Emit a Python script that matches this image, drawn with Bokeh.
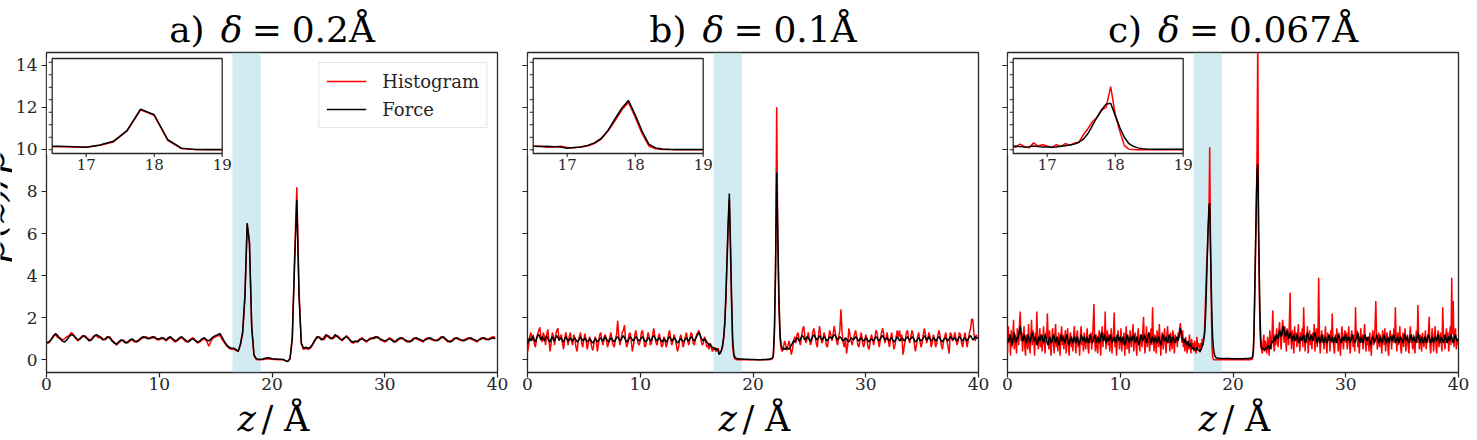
import numpy as np
from math import pi
from bokeh.plotting import figure
from bokeh.layouts import row, column
from bokeh.models import (Range1d, Label, Legend, LegendItem, FixedTicker,
                          BoxAnnotation, ColumnDataSource)
from bokeh.embed import file_html
from bokeh.resources import INLINE

# ---------------- data ----------------
panel_prefix = ["a)", "b)", "c)"]
panel_delta = ["0.2Å", "0.1Å", "0.067Å"]
series_names = ["Histogram", "Force"]
x_ticks = [0, 10, 20, 30, 40]
y_ticks = [0, 2, 4, 6, 8, 10, 12, 14]
inset_x_ticks = [17, 18, 19]
band_lo, band_hi = 16.5, 19.0
inset_lo, inset_hi = 16.5, 19.0
step_a, step_b, step_c = 0.2, 0.1, 1.0 / 15.0

hist_a = [
    0.85, 0.80, 0.95, 1.15, 1.20, 1.05, 1.05, 0.95, 1.00, 1.10,
    1.15, 1.30, 1.20, 1.00, 0.90, 1.05, 1.10, 1.15, 1.05, 0.95,
    1.00, 1.15, 1.15, 1.05, 1.10, 1.00, 0.95, 1.05, 1.10, 0.95,
    0.85, 0.70, 0.80, 0.90, 0.95, 0.85, 0.80, 0.90, 0.95, 0.85,
    0.90, 0.90, 1.00, 1.05, 1.10, 1.05, 1.00, 1.05, 1.10, 0.95,
    0.95, 1.00, 1.05, 0.90, 1.00, 1.05, 0.95, 0.85, 0.90, 1.00,
    1.05, 0.95, 0.85, 0.90, 1.00, 1.05, 0.95, 0.80, 0.85, 0.95,
    1.00, 0.90, 0.65, 0.90, 1.05, 1.10, 1.15, 1.15, 0.95, 0.80,
    0.65, 0.55, 0.50, 0.50, 0.45, 0.40, 0.70, 1.25, 3.00, 6.40,
    5.50, 1.50, 0.20, 0.02, 0.01, 0.01, 0.02, 0.04, 0.05, 0.04,
    0.03, 0.02, 0.02, 0.01, 0.01, 0.00, -0.04, -0.06, 0.05, 1.10,
    4.80, 8.20, 3.20, 0.75, 0.50, 0.55, 0.50, 0.55, 0.70, 0.90,
    1.05, 1.10, 1.00, 0.95, 1.10, 1.15, 1.05, 1.00, 1.10, 1.15,
    1.05, 0.90, 1.00, 1.15, 1.05, 0.85, 0.80, 0.85, 0.90, 1.00,
    1.05, 0.90, 0.85, 1.00, 1.05, 1.00, 1.05, 1.10, 0.95, 0.90,
    0.85, 0.90, 1.05, 1.00, 0.90, 0.85, 0.95, 1.00, 1.05, 0.90,
    0.85, 0.90, 0.95, 1.05, 1.00, 0.95, 0.90, 0.85, 1.00, 1.05,
    1.00, 0.95, 0.90, 0.95, 1.00, 1.10, 1.05, 0.95, 0.85, 0.90,
    0.95, 1.05, 1.00, 0.95, 0.90, 0.95, 1.00, 1.05, 1.00, 0.95,
    0.90, 0.85, 1.00, 1.05, 1.00, 0.95, 1.00, 1.05, 1.10, 1.05,
]
force_a = [
    0.80, 0.85, 0.95, 1.10, 1.25, 1.15, 1.00, 0.90, 0.85, 0.95,
    1.10, 1.20, 1.15, 1.05, 0.95, 1.00, 1.15, 1.10, 1.00, 0.90,
    0.95, 1.10, 1.20, 1.15, 1.05, 0.95, 1.00, 1.10, 1.05, 0.90,
    0.80, 0.75, 0.85, 0.95, 0.90, 0.80, 0.85, 0.95, 1.00, 0.90,
    0.85, 0.95, 1.05, 1.10, 1.05, 1.00, 1.05, 1.10, 1.05, 1.00,
    1.00, 1.05, 1.00, 0.95, 1.05, 1.10, 1.00, 0.90, 0.95, 1.05,
    1.10, 1.00, 0.90, 0.85, 0.95, 1.00, 0.90, 0.85, 0.90, 1.00,
    1.05, 0.95, 0.90, 1.00, 1.10, 1.15, 1.20, 1.25, 1.05, 0.85,
    0.70, 0.60, 0.55, 0.55, 0.50, 0.40, 0.75, 1.35, 3.05, 6.50,
    5.60, 1.60, 0.25, 0.06, 0.03, 0.03, 0.04, 0.08, 0.10, 0.09,
    0.05, 0.04, 0.04, 0.03, 0.03, 0.02, -0.05, -0.08, 0.05, 1.00,
    4.50, 7.60, 3.00, 0.80, 0.55, 0.60, 0.55, 0.60, 0.75, 0.95,
    1.10, 1.05, 0.95, 1.05, 1.20, 1.10, 1.00, 1.05, 1.20, 1.10,
    1.00, 0.95, 1.05, 1.10, 1.00, 0.90, 0.85, 0.90, 0.85, 0.95,
    1.00, 0.95, 0.90, 0.95, 1.00, 1.05, 1.10, 1.05, 1.00, 0.95,
    0.90, 0.95, 1.00, 0.95, 0.85, 0.90, 1.00, 1.05, 1.00, 0.95,
    0.90, 0.85, 0.90, 1.00, 1.05, 1.00, 0.95, 0.90, 0.95, 1.00,
    1.05, 1.00, 0.95, 0.90, 0.95, 1.05, 1.10, 1.00, 0.90, 0.85,
    0.90, 1.00, 1.05, 1.00, 0.95, 0.90, 0.95, 1.00, 1.05, 1.00,
    0.95, 0.90, 0.95, 1.00, 1.05, 1.00, 0.95, 1.00, 1.05, 1.00,
]

hist_b = [
    0.35, 0.70, 1.10, 1.30, 0.90, 1.20, 0.80, 0.60, 1.00, 1.25,
    1.40, 1.55, 1.00, 0.85, 1.30, 1.10, 0.70, 1.20, 1.45, 0.95,
    0.40, 0.80, 1.30, 1.10, 0.70, 1.20, 1.40, 1.50, 0.90, 1.10,
    1.20, 0.80, 0.50, 1.00, 1.30, 1.00, 0.70, 1.10, 1.30, 0.90,
    0.70, 1.20, 1.00, 0.60, 0.40, 0.90, 1.10, 1.30, 0.80, 0.60,
    1.00, 1.25, 0.90, 0.50, 0.80, 1.10, 0.90, 0.60, 0.45, 0.80,
    1.10, 0.90, 0.40, 0.80, 1.20, 1.30, 0.90, 0.70, 1.10, 1.20,
    0.90, 0.60, 0.80, 1.10, 1.30, 0.90, 0.70, 0.60, 1.00, 1.20,
    1.85, 1.10, 0.70, 1.00, 1.30, 1.40, 1.65, 0.90, 0.60, 0.80,
    1.20, 1.30, 0.90, 0.40, 0.70, 1.10, 1.40, 1.10, 0.80, 0.70,
    0.90, 1.30, 1.40, 1.00, 0.60, 0.70, 1.00, 1.30, 1.10, 0.70,
    0.80, 1.20, 1.50, 1.10, 0.80, 0.70, 1.10, 1.25, 0.90, 0.60,
    0.70, 1.10, 0.90, 0.60, 0.80, 1.20, 1.40, 1.00, 0.70, 0.90,
    1.20, 1.00, 0.70, 0.40, 0.60, 1.00, 1.20, 0.90, 0.60, 0.80,
    1.10, 1.30, 0.90, 0.70, 1.00, 1.30, 1.20, 0.80, 0.70, 1.00,
    1.20, 1.30, 1.40, 1.20, 0.90, 0.70, 0.80, 1.10, 0.90, 0.60,
    0.70, 0.50, 0.80, 0.60, 0.40, 0.55, 0.60, 0.40, 0.45, 0.55,
    0.35, 0.30, 0.45, 0.60, 1.00, 1.70, 3.00, 4.60, 6.30, 7.60,
    5.20, 2.60, 0.60, 0.15, 0.05, 0.02, 0.01, 0.01, 0.01, 0.00,
    0.00, 0.01, 0.00, 0.00, 0.01, 0.00, 0.00, 0.00, 0.01, 0.00,
    0.00, 0.00, 0.01, 0.00, 0.00, 0.00, 0.01, 0.00, 0.00, 0.00,
    0.00, 0.01, 0.00, 0.00, 0.01, 0.02, 0.03, 0.05, 0.15, 1.20,
    4.00, 12.00, 5.50, 2.50, 1.00, 0.50, 0.40, 0.60, 0.90, 0.70,
    0.45, 0.70, 0.90, 0.60, 0.25, 0.50, 0.90, 1.10, 0.80, 1.20,
    1.30, 0.90, 0.70, 1.10, 1.45, 1.60, 1.10, 0.80, 1.00, 1.30,
    1.00, 0.70, 0.90, 1.30, 1.50, 1.20, 0.80, 0.60, 1.10, 1.60,
    1.20, 0.80, 0.90, 1.30, 1.10, 0.70, 0.60, 1.00, 1.40, 1.20,
    0.90, 1.20, 1.60, 1.30, 0.90, 0.70, 1.10, 1.40, 2.40, 1.30,
    0.80, 0.60, 1.00, 0.30, 0.70, 1.50, 1.20, 0.90, 0.70, 1.00,
    1.20, 1.40, 1.10, 0.70, 0.60, 1.00, 1.30, 0.90, 0.60, 0.80,
    1.20, 1.00, 0.60, 0.50, 0.90, 1.20, 1.00, 0.70, 1.00, 1.40,
    1.30, 0.90, 0.60, 1.00, 1.30, 1.50, 1.20, 0.80, 1.00, 1.30,
    0.90, 0.60, 1.00, 1.30, 0.90, 0.50, 0.70, 1.10, 1.40, 1.10,
    1.40, 0.90, 1.20, 0.25, 0.60, 0.90, 1.30, 1.40, 1.00, 0.80,
    1.10, 1.40, 1.20, 0.80, 0.40, 0.70, 1.10, 1.30, 0.90, 0.60,
    0.80, 1.20, 1.50, 1.20, 0.80, 1.00, 1.30, 1.10, 0.60, 0.80,
    1.20, 1.00, 0.60, 0.80, 1.20, 1.40, 1.10, 0.70, 0.50, 0.90,
    1.10, 1.30, 0.90, 0.60, 0.30, 1.30, 1.20, 0.90, 1.00, 1.30,
    1.00, 0.70, 0.90, 1.30, 1.20, 0.80, 0.60, 1.00, 1.30, 0.90,
    0.60, 1.00, 1.30, 1.50, 1.95, 1.90, 1.20, 0.90, 1.20, 1.00,
]
force_b = [
    0.75, 0.95, 1.05, 0.90, 1.00, 1.10, 0.95, 0.85, 1.00, 1.15,
    1.20, 1.05, 0.95, 1.10, 1.00, 0.90, 1.05, 1.15, 1.00, 0.90,
    0.85, 1.00, 1.10, 0.95, 0.90, 1.05, 1.15, 1.05, 0.95, 1.00,
    1.05, 0.90, 0.85, 1.00, 1.10, 1.00, 0.90, 0.95, 1.05, 0.95,
    0.90, 1.00, 1.05, 0.95, 0.85, 0.90, 1.00, 1.10, 1.00, 0.90,
    0.95, 1.05, 0.95, 0.85, 0.90, 1.00, 0.95, 0.85, 0.80, 0.90,
    1.00, 0.95, 0.85, 0.90, 1.00, 1.05, 0.95, 0.90, 1.00, 1.10,
    1.00, 0.90, 0.85, 0.95, 1.05, 1.00, 0.90, 0.85, 0.95, 1.05,
    1.10, 1.00, 0.90, 0.95, 1.05, 1.15, 1.05, 0.95, 0.85, 0.90,
    1.00, 1.10, 1.05, 0.95, 0.90, 1.00, 1.10, 1.05, 0.95, 0.90,
    0.95, 1.05, 1.10, 1.00, 0.90, 0.85, 0.95, 1.05, 1.00, 0.90,
    0.95, 1.10, 1.15, 1.05, 0.95, 0.90, 1.00, 1.05, 0.95, 0.85,
    0.90, 1.00, 0.95, 0.85, 0.90, 1.05, 1.10, 1.00, 0.90, 0.95,
    1.05, 1.00, 0.90, 0.80, 0.85, 0.95, 1.00, 0.95, 0.85, 0.90,
    1.00, 1.05, 0.95, 0.90, 1.00, 1.10, 1.05, 0.95, 0.90, 1.00,
    1.10, 1.20, 1.30, 1.20, 1.05, 0.95, 0.90, 1.00, 0.95, 0.85,
    0.80, 0.70, 0.75, 0.65, 0.60, 0.55, 0.50, 0.55, 0.50, 0.45,
    0.25, 0.35, 0.45, 0.70, 1.10, 1.80, 3.10, 4.90, 6.60, 7.90,
    5.60, 3.00, 0.90, 0.30, 0.12, 0.08, 0.05, 0.05, 0.04, 0.04,
    0.04, 0.04, 0.03, 0.03, 0.03, 0.03, 0.03, 0.02, 0.02, 0.02,
    0.02, 0.02, 0.02, 0.01, 0.01, 0.01, 0.01, 0.01, 0.01, 0.02,
    0.02, 0.02, 0.02, 0.03, 0.03, 0.04, 0.05, 0.08, 0.20, 1.50,
    4.50, 8.90, 6.00, 3.00, 1.20, 0.70, 0.55, 0.50, 0.55, 0.50,
    0.60, 0.55, 0.50, 0.60, 0.70, 0.80, 0.90, 0.85, 0.95, 1.05,
    1.00, 0.90, 0.95, 1.10, 1.15, 1.05, 0.95, 1.00, 1.10, 1.05,
    0.95, 0.90, 1.00, 1.10, 1.20, 1.10, 1.00, 0.95, 1.05, 1.15,
    1.05, 0.95, 1.00, 1.10, 1.05, 0.95, 0.90, 1.00, 1.10, 1.05,
    1.00, 1.10, 1.20, 1.15, 1.05, 0.95, 1.00, 1.10, 1.05, 0.95,
    0.90, 0.95, 1.05, 1.00, 0.90, 0.85, 0.95, 1.05, 1.00, 0.95,
    1.00, 1.10, 1.05, 0.95, 0.90, 1.00, 1.05, 0.95, 0.90, 0.95,
    1.05, 1.00, 0.90, 0.85, 0.95, 1.00, 0.95, 0.90, 1.00, 1.10,
    1.05, 0.95, 0.90, 1.00, 1.10, 1.15, 1.05, 0.95, 1.00, 1.05,
    0.95, 0.90, 1.00, 1.05, 0.95, 0.85, 0.90, 1.00, 1.10, 1.00,
    0.90, 0.95, 1.05, 1.00, 0.90, 0.95, 1.05, 1.10, 1.00, 0.95,
    1.00, 1.10, 1.05, 0.95, 0.85, 0.90, 1.00, 1.05, 0.95, 0.90,
    0.95, 1.05, 1.15, 1.05, 0.95, 1.00, 1.10, 1.00, 0.90, 0.95,
    1.05, 1.00, 0.90, 0.95, 1.05, 1.10, 1.00, 0.90, 0.85, 0.95,
    1.00, 1.05, 0.95, 0.90, 1.00, 1.10, 1.05, 0.95, 1.00, 1.05,
    0.95, 0.90, 1.00, 1.10, 1.05, 0.95, 0.90, 1.00, 1.05, 0.95,
    0.90, 1.00, 1.10, 1.15, 1.05, 0.95, 1.00, 1.10, 1.05, 1.00,
]

hist_c = [
    0.3, 1.6, 0.8, 1.2, 0.2, 1.4, 0.6, 1.0, 1.9, 0.5, 1.2, 0.9, 0.3, 1.5, 1.1,
    0.7, 1.8, 2.3, 0.9, 1.3, 0.4, 1.1, 1.6, 0.6, 0.2, 1.2, 1.0, 0.5, 1.7, 0.8,
    0.3, 1.1, 1.9, 0.7, 1.4, 1.0, 0.2, 1.3, 0.8, 2.3, 1.1, 0.5, 0.9, 1.5, 0.6,
    1.2, 0.4, 1.0, 1.6, 0.8, 0.3, 1.3, 0.9, 2.2, 1.1, 0.5, 1.4, 0.7, 0.2, 1.0,
    1.5, 0.8, 0.3, 1.2, 1.7, 0.6, 1.0, 0.4, 1.3, 0.9, 0.2, 1.1, 1.6, 0.7, 1.2,
    0.5, 1.0, 1.4, 0.3, 0.9, 1.5, 0.7, 0.2, 1.1, 1.3, 0.6, 1.0, 0.4, 1.2, 1.6,
    0.8, 0.3, 1.1, 1.4, 0.6, 0.9, 0.2, 1.2, 1.6, 0.7, 1.0, 0.4, 1.3, 0.9, 0.5,
    1.1, 1.5, 0.6, 0.3, 1.2, 0.8, 1.3, 0.5, 1.0, 1.7, 2.65, 0.9, 0.4, 1.2, 0.7,
    0.3, 1.0, 1.4, 0.8, 0.2, 1.1, 1.6, 0.6, 1.3, 0.9, 2.3, 0.5, 1.0, 1.4, 0.7,
    1.2, 0.4, 0.9, 1.5, 0.3, 1.0, 1.3, 2.25, 0.6, 1.1, 0.2, 0.8, 1.4, 1.0, 0.5,
    0.9, 1.5, 0.4, 1.1, 0.7, 1.3, 0.2, 1.0, 1.6, 0.5, 1.2, 0.8, 0.3, 1.4, 1.0,
    0.6, 1.2, 1.7, 0.4, 1.0, 1.3, 0.7, 0.2, 1.1, 1.5, 0.8, 0.4, 1.2, 1.0, 0.6,
    1.4, 2.05, 0.8, 0.3, 1.1, 1.6, 0.6, 1.0, 1.3, 0.4, 0.9, 1.5, 0.7, 2.5, 1.0,
    0.4, 1.2, 0.8, 0.3, 1.4, 1.0, 0.6, 1.7, 0.9, 0.2, 1.1, 1.3, 0.5, 1.0, 1.5,
    0.7, 0.3, 1.2, 1.6, 0.8, 1.1, 0.4, 1.3, 0.9, 0.5, 1.4, 1.0, 0.3, 1.2, 0.8,
    1.1, 0.6, 1.3, 1.0, 1.5, 1.75, 1.2, 0.8, 1.4, 0.6, 1.0, 0.4, 1.1, 0.7, 0.3,
    0.9, 0.5, 1.2, 0.7, 0.3, 1.0, 0.6, 0.8, 0.4, 0.9, 0.5, 0.3, 1.1, 0.6, 0.8,
    0.60, 0.35, 0.80, 0.50, 1.00, 0.70, 1.10, 1.20, 2.40, 3.40, 4.50, 5.20, 6.30, 6.80, 10.10,
    5.70, 3.00, 0.70, 0.10, 0.03, 0.00, 0.01, 0.00, 0.00, 0.01, 0.00, 0.00, 0.00, 0.00, 0.00,
    0.00, 0.00, 0.00, 0.00, 0.00, 0.00, 0.00, 0.00, 0.00, 0.00, 0.00, 0.00, 0.00, 0.00, 0.00,
    0.00, 0.00, 0.00, 0.00, 0.00, 0.00, 0.00, 0.00, 0.00, 0.00, 0.00, 0.00, 0.00, 0.00, 0.00,
    0.00, 0.00, 0.00, 0.01, 0.00, 0.00, 0.01, 0.00, 0.01, 0.02, 0.03, 0.05, 0.30, 1.20, 3.00,
    5.00, 7.00, 10.00, 15.50, 6.00, 3.00, 1.20, 0.60, 0.50, 0.30, 0.80, 1.20, 0.40, 0.90, 0.60,
    0.30, 1.10, 0.70, 0.20, 1.40, 0.90, 0.50, 1.30, 2.35, 0.80, 0.40, 1.20, 0.70, 1.50, 1.00,
    0.60, 1.40, 1.80, 1.00, 0.50, 1.20, 1.90, 1.40, 0.80, 1.60, 1.10, 0.40, 1.50, 1.30, 0.70,
    1.8, 3.2, 1.0, 0.5, 1.4, 1.1, 0.3, 1.6, 0.9, 1.3, 0.6, 1.2, 1.7, 0.8, 0.4,
    1.3, 0.9, 1.5, 0.6, 2.5, 1.1, 0.4, 1.2, 0.8, 1.6, 0.3, 1.0, 1.4, 0.7, 1.1,
    0.5, 1.3, 0.9, 1.7, 0.4, 1.1, 1.5, 0.6, 1.0, 3.9, 1.2, 0.3, 0.9, 1.4, 0.8,
    1.2, 0.5, 1.0, 1.6, 0.7, 0.3, 1.3, 0.9, 1.1, 0.4, 1.4, 0.8, 2.2, 1.0, 0.6,
    0.3, 1.2, 0.8, 1.5, 1.0, 0.4, 1.3, 0.7, 0.2, 1.1, 1.6, 0.9, 0.5, 1.2, 1.4,
    0.8, 1.3, 0.5, 1.0, 1.6, 0.7, 0.3, 1.1, 1.4, 0.9, 0.6, 1.2, 0.4, 2.5, 1.0,
    1.4, 0.6, 1.1, 0.3, 1.0, 1.5, 0.8, 1.2, 0.5, 0.9, 1.7, 1.0, 0.4, 1.1, 0.7,
    1.0, 0.4, 1.3, 0.8, 0.2, 1.1, 1.4, 0.7, 1.0, 1.6, 2.8, 1.2, 0.5, 0.9, 1.3,
    0.6, 1.2, 0.9, 0.3, 1.4, 1.0, 0.7, 1.5, 0.4, 1.1, 1.3, 0.6, 0.2, 1.0, 1.4,
    1.1, 0.5, 1.2, 0.8, 1.5, 0.9, 2.5, 1.0, 0.4, 1.3, 0.7, 1.1, 1.6, 0.6, 0.3,
    0.9, 1.3, 0.6, 1.1, 1.5, 0.4, 1.0, 1.2, 0.7, 0.3, 1.1, 1.6, 0.8, 1.0, 0.5,
    1.2, 0.7, 0.3, 1.0, 1.4, 0.8, 2.6, 1.1, 0.5, 1.2, 0.9, 0.4, 1.3, 1.0, 0.6,
    1.0, 1.4, 0.5, 1.1, 0.8, 1.3, 2.05, 0.7, 0.3, 1.0, 1.5, 0.9, 0.4, 1.2, 1.6,
    0.7, 0.3, 1.1, 1.4, 0.6, 1.0, 1.3, 0.8, 0.4, 2.5, 1.2, 0.9, 0.5, 1.1, 1.5,
    0.8, 1.3, 0.4, 1.0, 1.6, 0.7, 3.9, 1.2, 2.8, 0.6, 1.1, 1.5, 0.5, 1.0, 0.7,
]
force_c = [
    0.8, 1.0, 0.9, 1.2, 1.1, 0.9, 0.7, 0.9, 1.1, 1.3, 1.0, 0.8, 0.9, 1.1, 1.0,
    1.2, 1.4, 1.6, 1.3, 1.1, 0.9, 1.0, 1.2, 1.1, 0.9, 0.8, 1.0, 1.2, 1.1, 0.9,
    0.8, 1.0, 1.2, 1.3, 1.1, 0.9, 1.0, 1.1, 0.9, 0.7, 0.8, 1.0, 1.1, 0.9, 1.0,
    1.2, 1.1, 0.9, 0.8, 1.0, 1.2, 1.1, 0.9, 0.8, 0.7, 0.9, 1.1, 1.0, 0.8, 0.9,
    1.0, 1.2, 1.1, 0.9, 0.8, 1.0, 1.1, 0.9, 0.7, 0.8, 1.0, 1.2, 1.0, 0.9, 1.1,
    1.0, 0.8, 0.9, 1.1, 1.2, 1.0, 0.8, 0.7, 0.9, 1.0, 1.1, 0.9, 0.8, 1.0, 1.1,
    0.9, 0.8, 1.0, 1.1, 0.9, 0.7, 0.8, 1.0, 1.2, 1.1, 0.9, 1.0, 1.1, 0.9, 0.8,
    1.0, 1.1, 0.9, 0.8, 1.0, 1.2, 1.0, 0.9, 0.8, 0.9, 1.1, 1.2, 1.0, 0.8, 0.9,
    1.1, 1.0, 0.8, 0.9, 1.1, 1.3, 1.1, 0.9, 1.0, 1.2, 1.0, 0.8, 0.9, 1.1, 1.0,
    0.9, 1.1, 1.2, 1.0, 0.8, 0.9, 1.0, 1.1, 0.9, 0.8, 1.0, 1.2, 1.1, 0.9, 1.0,
    1.1, 0.9, 0.8, 1.0, 1.1, 0.9, 0.7, 0.8, 1.0, 1.2, 1.1, 0.9, 0.8, 1.0, 1.1,
    1.0, 0.9, 1.1, 1.2, 1.0, 0.8, 0.9, 1.1, 1.0, 0.8, 0.7, 0.9, 1.1, 1.2, 1.0,
    0.9, 1.0, 1.2, 1.1, 0.9, 0.8, 1.0, 1.1, 1.3, 1.1, 0.9, 0.8, 1.0, 1.1, 0.9,
    0.8, 1.0, 1.1, 0.9, 0.8, 0.9, 1.1, 1.0, 0.8, 0.7, 0.9, 1.0, 1.2, 1.0, 0.9,
    1.0, 1.1, 0.9, 0.8, 1.0, 1.2, 1.1, 0.9, 0.8, 1.0, 1.1, 1.0, 0.9, 0.8, 1.0,
    1.1, 1.0, 0.9, 1.1, 1.3, 1.5, 1.3, 1.1, 1.0, 0.9, 0.8, 1.0, 0.9, 0.7, 0.8,
    0.9, 0.7, 0.6, 0.8, 0.7, 0.6, 0.5, 0.6, 0.55, 0.5, 0.45, 0.5, 0.6, 0.5, 0.45,
    0.45, 0.40, 0.45, 0.55, 0.65, 0.75, 0.90, 1.20, 1.70, 2.60, 3.90, 5.20, 6.40, 7.30, 7.45,
    5.50, 3.60, 2.00, 1.00, 0.55, 0.30, 0.18, 0.12, 0.10, 0.09, 0.08, 0.08, 0.07, 0.07, 0.07,
    0.07, 0.07, 0.06, 0.06, 0.06, 0.06, 0.06, 0.06, 0.06, 0.06, 0.06, 0.06, 0.06, 0.05, 0.05,
    0.05, 0.05, 0.05, 0.05, 0.05, 0.05, 0.05, 0.05, 0.05, 0.05, 0.05, 0.05, 0.05, 0.05, 0.05,
    0.06, 0.06, 0.06, 0.06, 0.06, 0.07, 0.07, 0.07, 0.08, 0.09, 0.10, 0.15, 0.40, 1.50, 3.50,
    5.50, 7.50, 9.00, 9.30, 6.50, 4.00, 2.00, 1.00, 0.60, 0.50, 0.55, 0.50, 0.45, 0.55, 0.60,
    0.50, 0.60, 0.70, 0.60, 0.50, 0.60, 0.80, 0.90, 0.80, 1.00, 1.10, 0.90, 1.00, 1.20, 1.10,
    1.0, 1.2, 1.4, 1.3, 1.1, 1.2, 1.5, 1.6, 1.4, 1.2, 1.1, 1.3, 1.4, 1.2, 1.0,
    1.1, 1.3, 1.2, 1.0, 0.9, 1.1, 1.2, 1.0, 0.9, 1.0, 1.2, 1.1, 0.9, 0.8, 1.0,
    1.1, 1.0, 0.9, 1.1, 1.2, 1.0, 0.8, 0.9, 1.1, 1.3, 1.1, 1.0, 0.9, 1.0, 1.2,
    1.1, 0.9, 1.0, 1.2, 1.3, 1.1, 0.9, 0.8, 1.0, 1.1, 0.9, 0.8, 1.0, 1.2, 1.0,
    0.9, 0.8, 1.0, 1.1, 0.9, 0.8, 0.9, 1.1, 1.2, 1.0, 0.9, 1.0, 1.1, 0.9, 0.8,
    1.0, 1.1, 0.9, 0.8, 1.0, 1.2, 1.1, 1.0, 0.9, 0.8, 1.0, 1.1, 1.0, 0.9, 1.1,
    1.2, 1.0, 0.9, 1.0, 1.1, 0.9, 0.8, 1.0, 1.1, 1.2, 1.0, 0.9, 0.8, 0.9, 1.0,
    1.1, 1.3, 1.1, 0.9, 0.8, 1.0, 1.1, 0.9, 0.8, 1.0, 1.2, 1.1, 1.0, 0.9, 1.0,
    1.1, 1.0, 0.8, 0.7, 0.9, 1.0, 1.1, 1.0, 0.8, 0.9, 1.0, 1.2, 1.1, 0.9, 0.8,
    1.0, 1.1, 0.9, 0.8, 0.9, 1.1, 1.2, 1.0, 0.9, 0.8, 1.0, 1.1, 0.9, 0.8, 1.0,
    1.1, 1.0, 0.9, 1.1, 1.2, 1.0, 0.8, 0.9, 1.0, 1.1, 0.9, 0.8, 1.0, 1.1, 1.0,
    0.9, 0.8, 1.0, 1.2, 1.1, 0.9, 1.0, 1.1, 0.9, 0.8, 0.9, 1.1, 1.2, 1.0, 0.9,
    1.0, 1.1, 0.9, 0.8, 1.0, 1.1, 1.3, 1.1, 0.9, 0.8, 1.0, 1.1, 0.9, 0.8, 0.9,
    1.1, 1.0, 0.8, 0.9, 1.1, 1.2, 1.0, 0.9, 0.8, 1.0, 1.1, 0.9, 0.8, 1.0, 1.1,
    1.0, 0.9, 1.1, 1.2, 1.0, 0.8, 0.9, 1.1, 1.0, 0.9, 0.8, 1.0, 1.2, 1.1, 0.9,
    0.8, 1.0, 1.1, 0.9, 1.0, 1.2, 1.1, 0.9, 0.8, 1.0, 1.1, 1.2, 1.0, 0.9, 1.0,
]

# ---------------- layout / style ----------------
FW, FH = 451, 320            # plot frame size (px)
TS = 51                      # height of the title strip
MT, MB = 1, 26               # main figure borders above / below the frame
MH = MT + FH + MB            # main figure height
XS = 440 - TS - MH           # height of the x-label strip
YLW = 12                     # width of the (cut) y-label strip
IL, IT, IW, IH = 5.7, 6.0, 170.0, 95.0   # inset box inside frame (px)
XR = (0, 40)
YR = (-0.6, 14.6)
INK = "#262626"
SERIF = "DejaVu Serif"
ASC = 0.928                  # DejaVu Serif ascent (em)
DESC = 0.236                 # DejaVu Serif descent (em)
EM = {"a": 0.596, "b": 0.640, "c": 0.560, ")": 0.390, "0": 0.636, "1": 0.636,
      "2": 0.636, "6": 0.636, "7": 0.636, ".": 0.318, "Å": 0.722}
panel_w = [512, 481, 484]
panel_bl = [46, 15, 14]
panel_br = [15, 15, 19]


def strip(width, height):
    s = figure(width=width, height=height, x_range=Range1d(0, width), y_range=Range1d(0, height),
               output_backend="svg", toolbar_location=None, title=None,
               x_axis_location=None, y_axis_location=None, min_border=0)
    s.xgrid.visible = False
    s.ygrid.visible = False
    s.outline_line_color = None
    s.background_fill_color = "white"
    s.border_fill_color = "white"
    return s


def put_text(s, x, y_top, txt, size, style="normal", align="left", angle=0.0):
    # y_top: position of the top of the text box (strip coordinates)
    s.add_layout(Label(x=x, y=y_top, text=txt, angle=angle, text_font=SERIF,
                       text_font_size=f"{size}px", text_font_style=style,
                       text_align=align, text_baseline="top", text_color="black"))


def make_panel(k, width, bl, br, step, hist, force):
    p = figure(width=width, height=MH, x_range=Range1d(*XR), y_range=Range1d(*YR),
               output_backend="svg", toolbar_location=None, title=None,
               min_border_left=bl, min_border_right=br,
               min_border_top=MT, min_border_bottom=MB)
    p.background_fill_color = "white"
    p.border_fill_color = "white"
    p.outline_line_color = INK
    p.outline_line_width = 1.3
    p.xgrid.visible = False
    p.ygrid.visible = False
    for ax in (p.xaxis[0], p.yaxis[0]):
        ax.axis_line_color = None
        ax.major_tick_line_color = INK
        ax.major_tick_line_width = 1.2
        ax.major_tick_out = 5
        ax.major_tick_in = 0
        ax.minor_tick_line_color = None
        ax.major_label_text_font = SERIF
        ax.major_label_text_font_size = "17px"
        ax.major_label_text_color = INK
    p.xaxis.ticker = FixedTicker(ticks=x_ticks)
    p.yaxis.ticker = FixedTicker(ticks=y_ticks)
    p.xaxis.major_label_standoff = 0
    p.yaxis.major_label_standoff = 4
    if k > 0:
        p.yaxis.major_label_overrides = {t: "" for t in y_ticks}

    p.add_layout(BoxAnnotation(left=band_lo, right=band_hi, fill_color="lightblue",
                               fill_alpha=0.55, line_color=None, level="underlay"))

    zh = np.arange(len(hist)) * step
    zf = np.arange(len(force)) * step
    src_h = ColumnDataSource(dict(z=zh, v=hist))
    src_f = ColumnDataSource(dict(z=zf, v=force))
    rh = p.line("z", "v", source=src_h, line_color="red", line_width=1.5)
    rf = p.line("z", "v", source=src_f, line_color="black", line_width=1.5)

    # ---- inset axes (own ranges mapped onto a sub-box of the frame)
    fx0, fx1 = IL / FW, (IL + IW) / FW
    xspan = (inset_hi - inset_lo) / (fx1 - fx0)
    xs0 = inset_lo - fx0 * xspan
    fy0, fy1 = (FH - IT - IH) / FH, (FH - IT) / FH
    yspan = (YR[1] - YR[0]) / (fy1 - fy0)
    ys0 = YR[0] - fy0 * yspan
    p.extra_x_ranges = {"ix": Range1d(xs0, xs0 + xspan)}
    p.extra_y_ranges = {"iy": Range1d(ys0, ys0 + yspan)}
    ppx = FW / xspan
    ppy = FH / yspan
    kw = dict(x_range_name="ix", y_range_name="iy")
    p.quad(left=[inset_lo], right=[inset_hi], bottom=[YR[0]], top=[YR[1]],
           fill_color="white", line_color=None, **kw)
    for zz, vv, col in ((zh, hist, "red"), (zf, force, "black")):
        vv = np.asarray(vv, dtype=float)
        m = (zz > inset_lo - step - 1e-6) & (zz < inset_hi + 1e-6)
        p.line(zz[m], vv[m], line_color=col, line_width=1.5, **kw)
    cover = (IL - 0.3) / ppx
    p.quad(left=[inset_lo - cover], right=[inset_lo], bottom=[YR[0] - 0.2], top=[YR[1] + 0.2],
           fill_color="white", line_color=None, **kw)
    p.quad(left=[inset_lo], right=[inset_hi], bottom=[YR[0]], top=[YR[1]],
           fill_color=None, line_color=INK, line_width=1.3, **kw)
    tl = 3.5
    n = len(inset_x_ticks)
    p.segment(x0=inset_x_ticks, y0=[YR[0]] * n, x1=inset_x_ticks, y1=[YR[0] - tl / ppy] * n,
              line_color=INK, line_width=1.1, **kw)
    m_ = len(y_ticks)
    p.segment(x0=[inset_lo] * m_, y0=y_ticks, x1=[inset_lo - tl / ppx] * m_, y1=y_ticks,
              line_color=INK, line_width=1.1, **kw)
    for t in inset_x_ticks:
        p.add_layout(Label(x=t, y=YR[0], x_range_name="ix", y_range_name="iy",
                           y_offset=-(tl + 2), text=str(t), text_align="center",
                           text_baseline="top", text_font=SERIF, text_font_size="15px",
                           text_color=INK))

    if k == 0:
        legend = Legend(items=[LegendItem(label=series_names[0], renderers=[rh]),
                               LegendItem(label=series_names[1], renderers=[rf])],
                        location="top_right", margin=10, padding=7, spacing=6,
                        glyph_width=40, glyph_height=22, label_height=22,
                        label_standoff=16, label_text_font=SERIF,
                        label_text_font_size="18px", label_text_color=INK,
                        border_line_color="#cccccc", border_line_width=1,
                        background_fill_color="white", background_fill_alpha=0.8)
        p.add_layout(legend)
    return p


# ---- title strips: "x) δ = ...Å"  (text box kept inside the strip)
title_strips = []
for k in range(3):
    s = strip(panel_w[k], TS)
    cx = panel_bl[k] + FW / 2.0
    fs = 36
    pre, num = panel_prefix[k], panel_delta[k]
    pre_w = sum(EM[c] for c in pre) * fs
    num_w = sum(EM[c] for c in num) * fs
    left = cx - (pre_w + 87 + num_w) / 2.0
    ytop = (ASC + DESC) * fs + 0.3          # box bottom 0.3 px above the strip edge
    put_text(s, left, ytop, pre, fs)
    put_text(s, left + pre_w + 16, ytop, "δ", fs, style="italic")
    put_text(s, left + pre_w + 47, ytop, "=", fs)
    put_text(s, left + pre_w + 87, ytop, num, fs)
    title_strips.append(s)

# ---- x-label strips: "z / Å"
xlab_strips = []
for k in range(3):
    s = strip(panel_w[k], XS)
    cx = panel_bl[k] + FW / 2.0
    fs = 35
    ytop = XS - 0.3
    put_text(s, cx - 34.5, ytop, "z", fs, style="italic")
    put_text(s, cx - 10.5, ytop, "/", fs)
    put_text(s, cx + 12.0, ytop, "Å", fs)
    xlab_strips.append(s)

# ---- y-label strip (label runs off the left edge, as in the original)
ylab = strip(YLW, MH)
put_text(ylab, 4.0 - ASC * 40, MH - (216.5 - TS), "ρ(z)/ρ", 40, style="italic",
         align="center", angle=pi / 2)

pa = make_panel(0, panel_w[0] - YLW, panel_bl[0] - YLW, panel_br[0], step_a, hist_a, force_a)
pb = make_panel(1, panel_w[1], panel_bl[1], panel_br[1], step_b, hist_b, force_b)
pc = make_panel(2, panel_w[2], panel_bl[2], panel_br[2], step_c, hist_c, force_c)

layout = column(row(*title_strips), row(ylab, pa, pb, pc), row(*xlab_strips))
open("out.html", "w").write(file_html(layout, INLINE))
